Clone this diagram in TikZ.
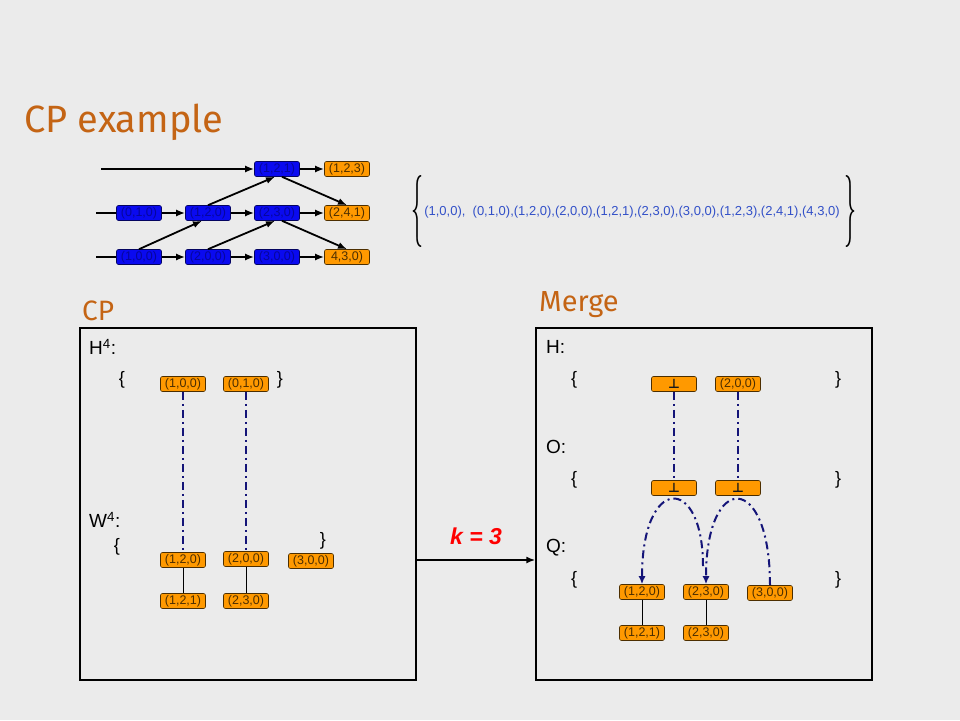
\documentclass[tikz,border=0pt]{standalone}
\usepackage{fontspec}
\setmainfont{Liberation Sans}
\newfontfamily\headfont{Fira Sans}
\newfontfamily\symfont{DejaVu Sans}
\usetikzlibrary{arrows.meta}
\definecolor{slidebg}{RGB}{235,235,235}
\definecolor{headcol}{RGB}{196,100,20}
\definecolor{boxor}{RGB}{255,153,0}
\definecolor{boxbl}{RGB}{10,10,240}
\definecolor{ptrcol}{RGB}{20,20,120}
\definecolor{listcol}{RGB}{50,80,200}
\tikzset{
  tuple/.style={draw=black!70!boxor, fill=boxor, rounded corners=2pt, line width=0.6pt,
    minimum width=45pt, minimum height=15pt, inner sep=0pt,
    text=black!70!boxor, font=\fontsize{12.5}{13}\selectfont},
  btuple/.style={tuple, fill=boxbl, draw=black!60!boxbl, text=black!35!boxbl},
  nil/.style={tuple, text=black!90, font=\symfont\bfseries\fontsize{13}{13}\selectfont},
  lbl/.style={anchor=west, inner sep=0pt, font=\fontsize{19}{20}\selectfont},
  brc/.style={inner sep=0pt, font=\fontsize{18}{19}\selectfont},
  head/.style={anchor=west, inner sep=0pt, text=headcol, font=\headfont},
  panel/.style={draw, line width=1.3pt, fill=slidebg, minimum width=336pt, minimum height=352pt},
  arr/.style={line width=1.8pt, -{Latex[length=9pt,width=7pt]}},
  ptr/.style={ptrcol, line width=2pt, dash pattern=on 8pt off 4pt on 2pt off 4pt},
}
\newcommand{\bigbrc}[1]{\resizebox{12pt}{54pt}{$#1$}}
\begin{document}
\begin{tikzpicture}[x=1pt,y=-1pt]
  \fill[slidebg] (0,0) rectangle (960,720);
  \useasboundingbox (0,0) rectangle (960,720);

  \node[head, font=\headfont\fontsize{38}{42}\selectfont] (title) at (24,122) {CP example};

  % upper lattice
  \node[btuple] (b121) at (277,169) {(1,2,1)};
  \node[tuple] (o123) at (347,169) {(1,2,3)};
  \node[btuple] (b010) at (139,213) {(0,1,0)};
  \node[btuple] (b120) at (208,213) {(1,2,0)};
  \node[btuple] (b230) at (277,213) {(2,3,0)};
  \node[tuple] (o241) at (347,213) {(2,4,1)};
  \node[btuple] (b100) at (139,257) {(1,0,0)};
  \node[btuple] (b200) at (208,257) {(2,0,0)};
  \node[btuple] (b300) at (277,257) {(3,0,0)};
  \node[tuple] (o430) at (347,257) {4,3,0)};
  \coordinate (s1) at (101,169);
  \coordinate (s2) at (96,213);
  \coordinate (s3) at (96,257);

  \draw[arr] (s1) -- (b121);
  \draw[arr] (b121) -- (o123);
  \draw[line width=1.8pt] (s2) -- (b010);
  \draw[arr] (b010) -- (b120);
  \draw[arr] (b120) -- (b230);
  \draw[arr] (b230) -- (o241);
  \draw[line width=1.8pt] (s3) -- (b100);
  \draw[arr] (b100) -- (b200);
  \draw[arr] (b200) -- (b300);
  \draw[arr] (b300) -- (o430);
  \draw[arr] (b100.north) -- ([xshift=-6pt]b120.south);
  \draw[arr] (b120.north) -- ([xshift=-2pt]b121.south);
  \draw[arr] ([xshift=5pt]b121.south) -- (o241.north);
  \draw[arr] (b200.north) -- ([xshift=-2pt]b230.south);
  \draw[arr] ([xshift=5pt]b230.south) -- (o430.north);

  % the set
  \node[inner sep=0pt] (lbr) at (417,211) {\bigbrc{\{}};
  \node[inner sep=0pt, text=listcol, font=\fontsize{13}{14}\selectfont] (lst) at (632,212)
    {(1,0,0),\ \ (0,1,0),(1,2,0),(2,0,0),(1,2,1),(2,3,0),(3,0,0),(1,2,3),(2,4,1),(4,3,0)};
  \node[inner sep=0pt] (rbr) at (850,211) {\bigbrc{\}}};

  % panels
  \node[head, font=\headfont\fontsize{28}{30}\selectfont] (cplbl) at (82,311) {CP};
  \node[head, font=\headfont\fontsize{29}{31}\selectfont] (mglbl) at (539,305) {Merge};
  \node[panel] (cpbox) at (248,504) {};
  \node[panel] (mgbox) at (704,504) {};
  \draw[arr] ([yshift=-56pt]cpbox.east) -- ([yshift=-56pt]mgbox.west);
  \node[text=red, font=\fontsize{23}{25}\selectfont\bfseries\itshape] (kval) at (476,536) {k = 3};

  % CP
  \node[lbl] (h4) at (89,347) {H\textsuperscript{4}:};
  \node[brc] (hl) at (122,380) {\{};
  \node[brc] (hr) at (280,380) {\}};
  \node[tuple] (h100) at (183,384) {(1,0,0)};
  \node[tuple] (h010) at (246,384) {(0,1,0)};
  \node[lbl] (w4) at (89,520) {W\textsuperscript{4}:};
  \node[brc] (wl) at (117,547) {\{};
  \node[brc] (wr) at (323,541) {\}};
  \node[tuple] (w120) at (183,560) {(1,2,0)};
  \node[tuple] (w200) at (246,559) {(2,0,0)};
  \node[tuple] (w300) at (311,561) {(3,0,0)};
  \node[tuple] (w121) at (183,601) {(1,2,1)};
  \node[tuple] (w230) at (246,601) {(2,3,0)};
  \draw[ptr] (h100.south) -- (w120.north);
  \draw[ptr] (h010.south) -- (w200.north);
  \draw[line width=0.8pt] (w120) -- (w121);
  \draw[line width=0.8pt] (w200) -- (w230);

  % Merge
  \node[lbl] (hh) at (546,347) {H:};
  \node[brc] (hhl) at (574,380) {\{};
  \node[brc] (hhr) at (838,380) {\}};
  \node[nil] (mh1) at (674,384) {⊥};
  \node[tuple] (mh2) at (738,384) {(2,0,0)};
  \node[lbl] (oo) at (546,447) {O:};
  \node[brc] (ool) at (574,480) {\{};
  \node[brc] (oor) at (838,480) {\}};
  \node[nil] (mo1) at (674,488) {⊥};
  \node[nil] (mo2) at (738,488) {⊥};
  \node[lbl] (qq) at (546,548) {Q:};
  \node[brc] (qql) at (574,580) {\{};
  \node[brc] (qqr) at (838,580) {\}};
  \node[tuple] (q120) at (642,592) {(1,2,0)};
  \node[tuple] (q230) at (706,592) {(2,3,0)};
  \node[tuple] (q300) at (770,593) {(3,0,0)};
  \node[tuple] (q121) at (642,633) {(1,2,1)};
  \node[tuple] (q230b) at (706,633) {(2,3,0)};
  \draw[ptr] (mh1.south) -- (mo1.north);
  \draw[ptr] (mh2.south) -- (mo2.north);
  \draw[ptr, -{Latex[length=8pt,width=7pt]}] ([xshift=-3pt,yshift=18pt]q230.north)
    .. controls +(0,-92) and +(0,-110) .. (q120.north);
  \draw[ptr, -{Latex[length=8pt,width=7pt]}] (q300.north)
    .. controls +(0,-114) and +(0,-113) .. (q230.north);
  \draw[line width=0.8pt] (q120) -- (q121);
  \draw[line width=0.8pt] (q230) -- (q230b);
\end{tikzpicture}
\end{document}
